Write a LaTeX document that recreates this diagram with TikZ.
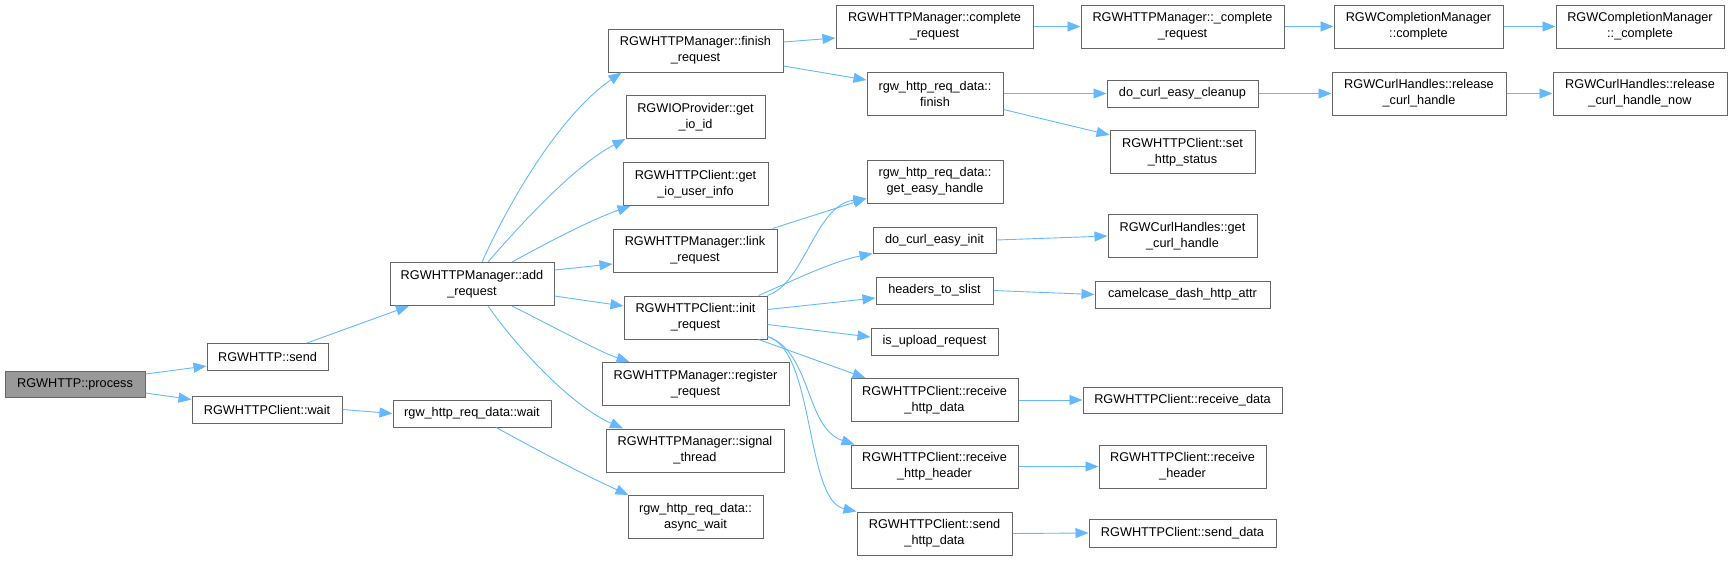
\documentclass[tikz,border=0pt]{standalone}
\usepackage{fontspec}
\setmainfont{Liberation Sans}
\usetikzlibrary{arrows.meta}
\definecolor{edgeblue}{HTML}{63B8FF}
\definecolor{boxgray}{HTML}{666666}
\definecolor{rootfill}{HTML}{999999}
\newcommand\dxfont{\fontsize{12.7}{16}\selectfont}
\tikzset{
  box/.style={draw=boxgray, line width=1pt, fill=white, inner sep=0pt, align=center, font=\dxfont, minimum height=27pt},
  dbl/.style={minimum height=43pt},
  root/.style={fill=rootfill},
  edge/.style={draw=edgeblue, line width=0.9pt, -{Triangle[length=13pt,width=10pt]}}
}
\begin{document}
\begin{tikzpicture}[x=1pt,y=-1pt]
\useasboundingbox (0,0) rectangle (1732,560);
% column 0-2
\node[box,root,minimum width=140pt,minimum height=26pt] (process) at (75,384) {RGWHTTP::process};
\node[box,minimum width=121pt] (send) at (267.5,357) {RGWHTTP::send};
\node[box,minimum width=150pt] (cwait) at (267,409.5) {RGWHTTPClient::wait};
\node[box,dbl,minimum width=164pt] (add) at (472,284) {RGWHTTPManager::add\\\_request};
\node[box,minimum width=158pt] (dwait) at (472,413.5) {rgw\_http\_req\_data::wait};
% column 3
\node[box,dbl,minimum width=175pt] (finishreq) at (695.5,50.5) {RGWHTTPManager::finish\\\_request};
\node[box,dbl,minimum width=139pt] (ioid) at (695.5,117) {RGWIOProvider::get\\\_io\_id};
\node[box,dbl,minimum width=145pt] (iouser) at (695.5,184) {RGWHTTPClient::get\\\_io\_user\_info};
\node[box,dbl,minimum width=164pt] (link) at (695,250.5) {RGWHTTPManager::link\\\_request};
\node[box,dbl,minimum width=143pt] (init) at (695.5,317.5) {RGWHTTPClient::init\\\_request};
\node[box,dbl,minimum width=187pt] (register) at (695.5,384) {RGWHTTPManager::register\\\_request};
\node[box,dbl,minimum width=178pt] (signal) at (695,450.5) {RGWHTTPManager::signal\\\_thread};
\node[box,dbl,minimum width=135pt] (async) at (695.5,517) {rgw\_http\_req\_data::\\async\_wait};
% column 4
\node[box,dbl,minimum width=197pt] (completereq) at (934.5,26.5) {RGWHTTPManager::complete\\\_request};
\node[box,dbl,minimum width=136pt] (dfinish) at (935,93.5) {rgw\_http\_req\_data::\\finish};
\node[box,dbl,minimum width=136pt] (geteasy) at (935,181.5) {rgw\_http\_req\_data::\\get\_easy\_handle};
\node[box,minimum width=123pt,minimum height=26pt] (easyinit) at (934.5,240) {do\_curl\_easy\_init};
\node[box,minimum width=117pt] (slist) at (934.5,290.5) {headers\_to\_slist};
\node[box,minimum width=127pt] (upload) at (934.5,341.5) {is\_upload\_request};
\node[box,dbl,minimum width=167pt] (rhttpdata) at (934.5,400) {RGWHTTPClient::receive\\\_http\_data};
\node[box,dbl,minimum width=167pt] (rhttpheader) at (934.5,466.5) {RGWHTTPClient::receive\\\_http\_header};
\node[box,dbl,minimum width=155pt] (shttpdata) at (934.5,533.5) {RGWHTTPClient::send\\\_http\_data};
% column 5
\node[box,dbl,minimum width=203pt] (ucompletereq) at (1182.5,26.5) {RGWHTTPManager::\_complete\\\_request};
\node[box,minimum width=151pt] (cleanup) at (1182.5,93.5) {do\_curl\_easy\_cleanup};
\node[box,dbl,minimum width=145pt] (setstatus) at (1182.5,152) {RGWHTTPClient::set\\\_http\_status};
\node[box,dbl,minimum width=149pt] (getcurl) at (1182.5,236) {RGWCurlHandles::get\\\_curl\_handle};
\node[box,minimum width=175pt] (camel) at (1182.5,294.5) {camelcase\_dash\_http\_attr};
\node[box,minimum width=199pt,minimum height=26pt] (rdata) at (1182.5,400) {RGWHTTPClient::receive\_data};
\node[box,dbl,minimum width=167pt] (rheader) at (1182.5,466.5) {RGWHTTPClient::receive\\\_header};
\node[box,minimum width=187pt,minimum height=28pt] (sdata) at (1182.5,533) {RGWHTTPClient::send\_data};
% column 6-7
\node[box,dbl,minimum width=169pt] (cmcomplete) at (1418.5,26.5) {RGWCompletionManager\\::complete};
\node[box,dbl,minimum width=168pt] (cmucomplete) at (1640,26.5) {RGWCompletionManager\\::\_complete};
\node[box,dbl,minimum width=174pt] (release) at (1419,93.5) {RGWCurlHandles::release\\\_curl\_handle};
\node[box,dbl,minimum width=174pt] (releasenow) at (1640,93.5) {RGWCurlHandles::release\\\_curl\_handle\_now};
% edges
\draw[edge] ([yshift=10pt]process.east) -- ([yshift=-9pt]send.west);
\draw[edge] ([yshift=-9pt]process.east) -- ([yshift=10pt]cwait.west);
\draw[edge] ([xshift=39.5pt]send.north) -- ([xshift=-63pt]add.south);
\draw[edge] (cwait.east) -- (dwait.west);
\draw[edge] ([xshift=10pt]add.north) .. controls (510,200) and (560,115) .. ([xshift=-74pt]finishreq.south);
\draw[edge] ([xshift=16pt]add.north) .. controls (520,225) and (575,165) .. (ioid.south west);
\draw[edge] ([xshift=40pt]add.north) .. controls (545,244) and (590,220) .. ([xshift=8pt]iouser.south west);
\draw[edge] ([yshift=14pt]add.east) -- ([yshift=-13.5pt]link.west);
\draw[edge] ([yshift=-12pt]add.east) -- ([yshift=11.5pt]init.west);
\draw[edge] ([xshift=40pt]add.south) .. controls (550,325) and (600,352) .. ([xshift=-66pt]register.north);
\draw[edge] ([xshift=16pt]add.south) .. controls (515,345) and (570,405) .. ([xshift=-72pt]signal.north);
\draw[edge] ([xshift=24pt]dwait.south) .. controls (530,446) and (580,473) .. ([xshift=-67pt]async.north);
\draw[edge] ([yshift=8.5pt]finishreq.east) -- ([yshift=-11.5pt]completereq.west);
\draw[edge] ([yshift=-15.5pt]finishreq.east) -- ([yshift=13.5pt]dfinish.west);
\draw[edge] (completereq.east) -- (ucompletereq.west);
\draw[edge] (ucompletereq.east) -- (cmcomplete.west);
\draw[edge] (cmcomplete.east) -- (cmucomplete.west);
\draw[edge] (dfinish.east) -- (cleanup.west);
\draw[edge] ([yshift=-16pt]dfinish.east) -- ([yshift=17pt]setstatus.west);
\draw[edge] (cleanup.east) -- (release.west);
\draw[edge] (release.east) -- (releasenow.west);
\draw[edge] ([xshift=-5pt]link.north east) -- ([yshift=-17pt]geteasy.west);
\draw[edge] (init.north east) .. controls (805,283) and (815,205) .. ([yshift=-17pt]geteasy.west);
\draw[edge] ([xshift=-9pt]init.north east) .. controls (790,282) and (830,262) .. (easyinit.south west);
\draw[edge] ([yshift=8pt]init.east) -- ([yshift=-7.5pt]slist.west);
\draw[edge] ([yshift=-7pt]init.east) -- ([yshift=4.5pt]upload.west);
\draw[edge] ([xshift=-9pt]init.south east) -- ([xshift=15pt]rhttpdata.north west);
\draw[edge] ([yshift=3pt]init.south east) .. controls (812,352) and (805,428) .. ([xshift=4pt]rhttpheader.north west);
\draw[edge] ([yshift=3pt]init.south east) .. controls (815,350) and (805,500) .. (shttpdata.north west);
\draw[edge] (easyinit.east) -- (getcurl.west);
\draw[edge] (slist.east) -- (camel.west);
\draw[edge] (rhttpdata.east) -- (rdata.west);
\draw[edge] (rhttpheader.east) -- (rheader.west);
\draw[edge] (shttpdata.east) -- (sdata.west);
\end{tikzpicture}
\end{document}
